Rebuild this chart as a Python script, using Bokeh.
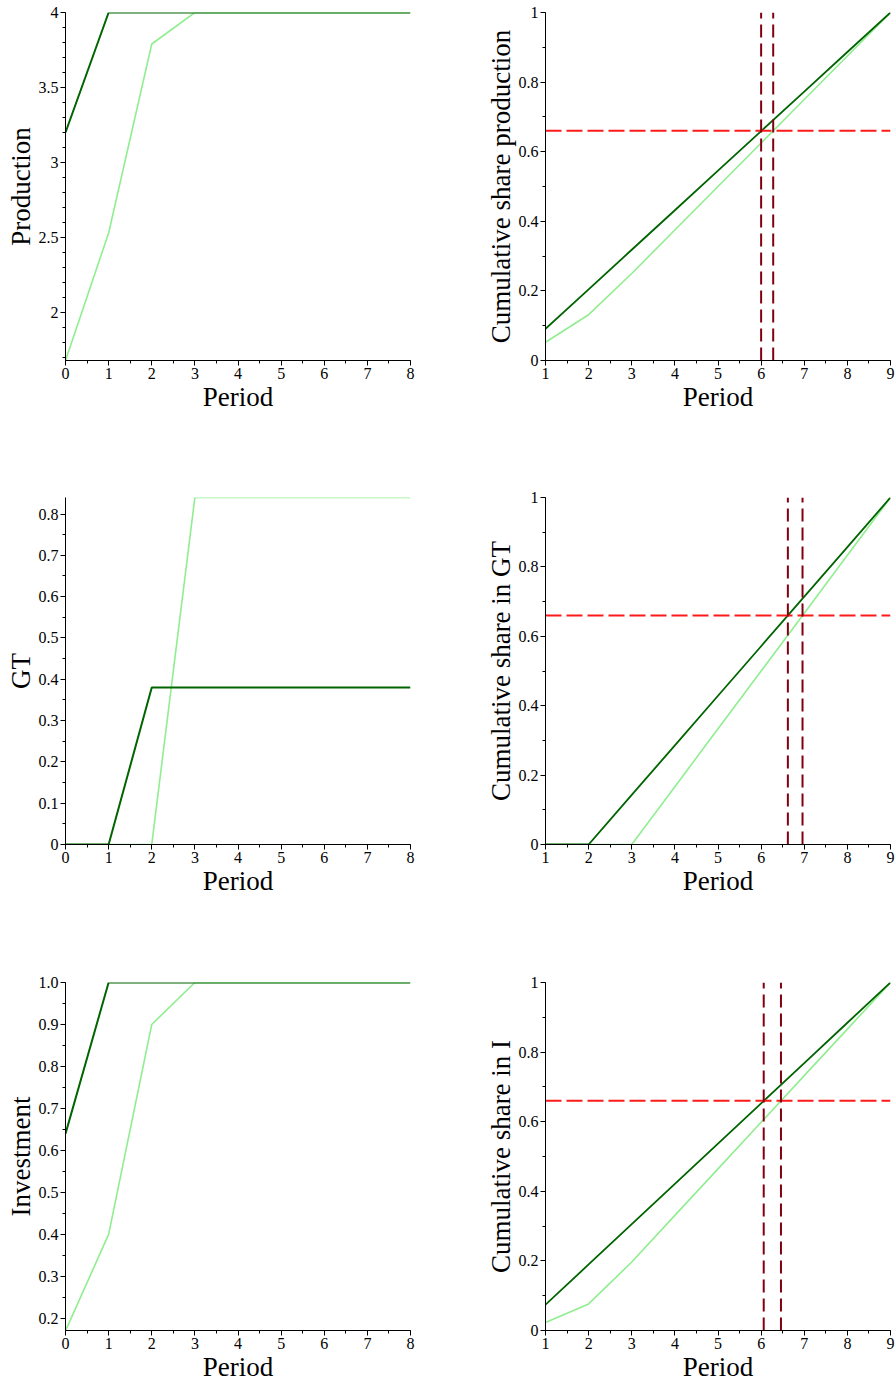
from bokeh.plotting import figure
from bokeh.layouts import column, row
from bokeh.models import FixedTicker, Range1d
from bokeh.embed import file_html
from bokeh.resources import INLINE

# ---------------- data ----------------
periods = [0, 1, 2, 3, 4, 5, 6, 7, 8]
periods_cum = [1, 2, 3, 4, 5, 6, 7, 8, 9]

prod_dark = [3.2, 4, 4, 4, 4, 4, 4, 4, 4]
prod_light = [1.68, 2.53, 3.79, 4, 4, 4, 4, 4, 4]
gt_dark = [0, 0, 0.38, 0.38, 0.38, 0.38, 0.38, 0.38, 0.38]
gt_light = [0, 0, 0, 0.84, 0.84, 0.84, 0.84, 0.84, 0.84]
inv_dark = [0.64, 1, 1, 1, 1, 1, 1, 1, 1]
inv_light = [0.17, 0.40, 0.90, 1, 1, 1, 1, 1, 1]

cum_prod_dark = [0.0909, 0.2045, 0.3182, 0.4318, 0.5455, 0.6591, 0.7727, 0.8864, 1.0]
cum_prod_light = [0.0525, 0.1316, 0.25, 0.375, 0.5, 0.625, 0.75, 0.875, 1.0]
cum_gt_dark = [0, 0, 0.1429, 0.2857, 0.4286, 0.5714, 0.7143, 0.8571, 1.0]
cum_gt_light = [0, 0, 0, 0.1667, 0.3333, 0.5, 0.6667, 0.8333, 1.0]
cum_inv_dark = [0.0741, 0.1898, 0.3056, 0.4213, 0.5370, 0.6528, 0.7685, 0.8843, 1.0]
cum_inv_light = [0.0228, 0.0763, 0.1968, 0.3307, 0.4645, 0.5984, 0.7323, 0.8661, 1.0]

threshold = 0.66
cross_prod = [6.00, 6.28]
cross_gt = [6.62, 6.96]
cross_inv = [6.06, 6.46]

# tick labels
x_ticks_levels = [0, 1, 2, 3, 4, 5, 6, 7, 8]
x_ticks_cum = [1, 2, 3, 4, 5, 6, 7, 8, 9]
prod_yticks = [2, 2.5, 3, 3.5, 4]
prod_ylabels = ["2", "2.5", "3", "3.5", "4"]
gt_yticks = [0, 0.1, 0.2, 0.3, 0.4, 0.5, 0.6, 0.7, 0.8]
gt_ylabels = ["0", "0.1", "0.2", "0.3", "0.4", "0.5", "0.6", "0.7", "0.8"]
inv_yticks = [0.2, 0.3, 0.4, 0.5, 0.6, 0.7, 0.8, 0.9, 1.0]
inv_ylabels = ["0.2", "0.3", "0.4", "0.5", "0.6", "0.7", "0.8", "0.9", "1.0"]
cum_yticks = [0, 0.2, 0.4, 0.6, 0.8, 1.0]
cum_ylabels = ["0", "0.2", "0.4", "0.6", "0.8", "1"]

DARK = "#006400"
LIGHT = "#90EE90"
RED = "#FF1A1A"
MAROON = "#800010"
FONT = "Liberation Serif"

LEFT_W = 428
RIGHT_W = 467


def frange(a, b, step):
    out = []
    v = a
    while v <= b + 1e-9:
        out.append(round(v, 6))
        v += step
    return out


def make_fig(width, height, top, bottom, left, right, xr, yr, xlabel, ylabel,
             xticks, xminor, yticks, ylabels, yminor):
    p = figure(width=width, height=height, output_backend="svg", toolbar_location=None,
               x_range=Range1d(*xr), y_range=Range1d(*yr),
               min_border_top=top, min_border_bottom=bottom,
               min_border_left=left, min_border_right=right)
    p.outline_line_color = None
    p.grid.visible = False
    p.background_fill_color = "white"
    p.border_fill_color = "white"
    xa = p.xaxis[0]
    ya = p.yaxis[0]
    xa.ticker = FixedTicker(ticks=xticks, minor_ticks=xminor)
    ya.ticker = FixedTicker(ticks=yticks, minor_ticks=yminor)
    ya.major_label_overrides = {t: l for t, l in zip(yticks, ylabels)}
    xa.major_label_overrides = {t: str(t) for t in xticks}
    for ax in (xa, ya):
        ax.axis_line_color = "black"
        ax.axis_line_width = 1
        ax.major_tick_in = 0
        ax.major_tick_out = 5
        ax.minor_tick_in = 0
        ax.minor_tick_out = 3
        ax.major_tick_line_color = "black"
        ax.minor_tick_line_color = "black"
        ax.major_label_text_font = FONT
        ax.major_label_text_font_size = "16px"
        ax.major_label_text_color = "black"
        ax.axis_label_text_font = FONT
        ax.axis_label_text_font_size = "27px"
        ax.axis_label_text_font_style = "normal"
        ax.axis_label_text_color = "black"
        ax.axis_label_standoff = 0
        ax.major_label_standoff = 2
    xa.axis_label = xlabel
    ya.axis_label = ylabel
    return p


def level_fig(height, top, bottom, yr, ylabel, yticks, ylabels, yminor, dark, light):
    p = make_fig(LEFT_W, height, top, bottom, 65, LEFT_W - 65 - 345,
                 (0, 8), yr, "Period", ylabel,
                 x_ticks_levels, frange(0, 8, 0.5), yticks, ylabels, yminor)
    p.line(periods, light, line_color=LIGHT, line_width=1.6)
    p.line(periods, dark, line_color=DARK, line_width=2)
    return p


def cum_fig(height, top, bottom, ylabel, dark, light, cross):
    p = make_fig(RIGHT_W, height, top, bottom, RIGHT_W - 345 - 5, 5,
                 (1, 9), (0, 1), "Period", ylabel,
                 x_ticks_cum, frange(1, 9, 0.5), cum_yticks, cum_ylabels, frange(0, 1, 0.1))
    p.line(periods_cum, light, line_color=LIGHT, line_width=1.6)
    p.line(periods_cum, dark, line_color=DARK, line_width=1.8)
    p.segment(x0=[periods_cum[0]], y0=[threshold], x1=[periods_cum[-1]], y1=[threshold],
              line_color=RED, line_width=2, line_dash="16 5")
    p.segment(x0=cross, y0=[0, 0], x1=cross, y1=[1, 1],
              line_color=MAROON, line_width=2, line_dash="13 6")
    return p


# Row 1
p1 = level_fig(440, 12, 80, (1.68, 4.0), "Production", prod_yticks, prod_ylabels,
               frange(1.7, 4.0, 0.1), prod_dark, prod_light)
p2 = cum_fig(440, 12, 80, "Cumulative share production", cum_prod_dark, cum_prod_light, cross_prod)

# Row 2
p3 = level_fig(480, 47, 76, (0, 0.84), "GT", gt_yticks, gt_ylabels,
               frange(0, 0.84, 0.05), gt_dark, gt_light)
p4 = cum_fig(480, 57, 76, "Cumulative share in GT", cum_gt_dark, cum_gt_light, cross_gt)

# Row 3
p5 = level_fig(469, 62, 59, (0.171, 1.0), "Investment", inv_yticks, inv_ylabels,
               frange(0.2, 1.0, 0.05), inv_dark, inv_light)
p6 = cum_fig(469, 62, 59, "Cumulative share in I", cum_inv_dark, cum_inv_light, cross_inv)

layout = column(row(p1, p2, spacing=0), row(p3, p4, spacing=0), row(p5, p6, spacing=0), spacing=0)

open("out.html", "w").write(file_html(layout, INLINE))
